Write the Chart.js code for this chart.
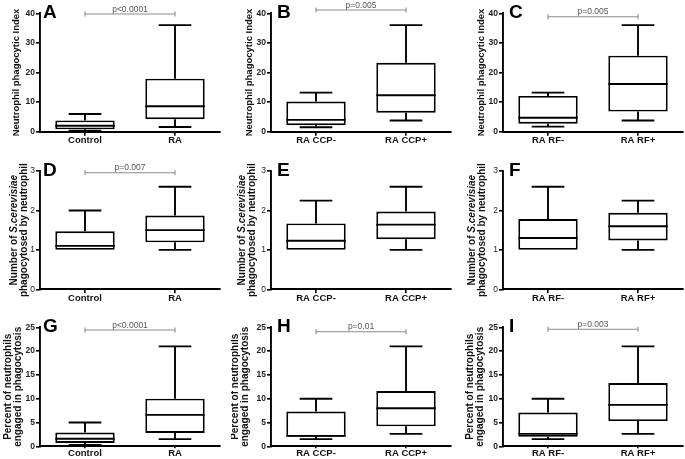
<!DOCTYPE html>
<html><head><meta charset="utf-8">
<script src="https://cdn.jsdelivr.net/npm/chart.js@4.4.1/dist/chart.umd.min.js"></script>
<style>
html,body{margin:0;padding:0;background:#fff;}
body{width:685px;height:459px;position:relative;overflow:hidden;}
.p{position:absolute;}
</style></head><body>
<script>
// ---------- data ----------
const catsRA  = ['Control', 'RA'];
const catsCCP = ['RA CCP-', 'RA CCP+'];
const catsRF  = ['RA RF-', 'RA RF+'];
// five-number summaries per group: [min, q1, median, q3, max]
const indexRA    = [[0.3, 0.8, 2.0, 3.8, 6.0], [1.6, 4.2, 8.6, 17.9, 36.0]];
const indexCCP   = [[1.5, 2.2, 4.0, 10.2, 13.2], [3.8, 6.4, 12.3, 23.3, 36.0]];
const indexRF    = [[1.7, 2.7, 4.7, 12.1, 13.2], [3.8, 6.8, 16.1, 25.7, 36.0]];
const numberRA   = [[1.0, 1.0, 1.1, 1.47, 2.0], [1.0, 1.19, 1.5, 1.87, 2.6]];
const numberCCP  = [[1.0, 1.0, 1.23, 1.67, 2.25], [1.0, 1.27, 1.64, 1.97, 2.6]];
const numberRF   = [[1.0, 1.0, 1.3, 1.78, 2.6], [1.0, 1.24, 1.6, 1.94, 2.25]];
const percentRA  = [[0.3, 0.7, 1.6, 2.9, 5.0], [1.5, 2.8, 6.6, 10.0, 21.0]];
const percentCCP = [[1.5, 2.0, 2.2, 7.3, 10.0], [2.6, 4.2, 8.0, 11.6, 21.0]];
const percentRF  = [[1.5, 2.0, 2.6, 7.1, 10.0], [2.6, 5.3, 8.7, 13.3, 21.0]];
const ticksIndex   = [0, 10, 20, 30, 40];
const ticksNumber  = [0, 1, 2, 3];
const ticksPercent = [0, 5, 10, 15, 20, 25];
const pValues = ['p<0.0001', 'p=0.005', 'p=0.005', 'p=0.007', '', '', 'p<0.0001', 'p=0.01', 'p=0.003'];
const letters = ['A', 'B', 'C', 'D', 'E', 'F', 'G', 'H', 'I'];
const titleIndex   = [[['Neutrophil phagocytic Index', false]]];
const titleNumber  = [[['Number of ', false], ['S.cerevisiae', true]], [['phagocytosed by neutrophil', false]]];
const titlePercent = [[['Percent of neutrophils', false]], [['engaged in phagocytosis', false]]];

const panelData = [indexRA, indexCCP, indexRF, numberRA, numberCCP, numberRF, percentRA, percentCCP, percentRF];
const panelCats = [catsRA, catsCCP, catsRF];
const rowTicks = [ticksIndex, ticksNumber, ticksPercent];
const rowTitles = [titleIndex, titleNumber, titlePercent];

// ---------- layout (styles / positions) ----------
const FONT = "'Liberation Sans', Arial, Helvetica, sans-serif";
Chart.defaults.font.family = FONT;
const LW = 1.9;
const canvasLeft = [0, 231, 463];
const canvasTop = [0, 158, 314];
const canvasH = [158, 156, 145];
const padTop = [13.3, 13, 13.3];
const xAxisH = [26.3, 24.7, 12.7];
const xTickLen = [4, 4, 2];
const xLabelPad = [-1, -1, -1];
const titleFont = [9.5, 10, 10];
const titleX = [[[16.7], [18.7], [18]], [[14, 24.3], [11, 21], [9.7, 19.7]], [[8.3, 18.3], [4.3, 14.3], [7, 17]]];
const letterDx = [3, 6, 6];
const bracketDy = [0.7, -3.3, 3.4, 1.7, 0, 0, 2.7, 4.4, 2];

const boxPlugin = {
  id: 'boxplot',
  afterDatasetsDraw(chart) {
    const cfg = chart.options.plugins.boxplot;
    const summ = cfg.summary;
    const ys = chart.scales.y;
    const ctx = chart.ctx;
    const meta = chart.getDatasetMeta(0);
    ctx.save();
    ctx.strokeStyle = '#000';
    ctx.lineWidth = LW;
    ctx.lineCap = 'butt';
    const seg = (x1, y1, x2, y2) => { ctx.beginPath(); ctx.moveTo(x1, y1); ctx.lineTo(x2, y2); ctx.stroke(); };
    meta.data.forEach((bar, j) => {
      const s = summ[j];
      const x = bar.x, w = bar.width, cw = w * 0.55;
      const py = v => ys.getPixelForValue(v);
      seg(x, py(s[3]), x, py(s[4]));
      seg(x - cw / 2, py(s[4]), x + cw / 2, py(s[4]));
      if (s[0] < s[1]) {
        seg(x, py(s[1]), x, py(s[0]));
        seg(x - cw / 2, py(s[0]), x + cw / 2, py(s[0]));
      }
      seg(x - w / 2, py(s[2]), x + w / 2, py(s[2]));
    });
    ctx.restore();
  },
  afterDraw(chart) {
    const cfg = chart.options.plugins.boxplot;
    const ctx = chart.ctx;
    const ca = chart.chartArea;
    const xs = chart.scales.x;
    ctx.save();
    // panel letter
    ctx.fillStyle = '#000';
    ctx.font = 'bold 19px ' + FONT;
    ctx.textAlign = 'left';
    ctx.textBaseline = 'alphabetic';
    ctx.fillText(cfg.letter, ca.left + cfg.letterDx, ca.top + 5);
    // significance bracket
    if (cfg.p) {
      const x1 = xs.getPixelForValue(0), x2 = xs.getPixelForValue(1);
      const y = ca.top + cfg.bracketDy;
      ctx.strokeStyle = '#8c8c8c';
      ctx.lineWidth = 1.1;
      ctx.beginPath();
      ctx.moveTo(x1, y); ctx.lineTo(x2, y);
      ctx.moveTo(x1, y - 2.5); ctx.lineTo(x1, y + 2.5);
      ctx.moveTo(x2, y - 2.5); ctx.lineTo(x2, y + 2.5);
      ctx.stroke();
      ctx.fillStyle = '#555';
      ctx.font = '8.5px ' + FONT;
      ctx.textAlign = 'center';
      ctx.fillText(cfg.p, (x1 + x2) / 2, y - 2.5);
    }
    // y title (rotated, mixed italic)
    const cy = (ca.top + ca.bottom) / 2;
    ctx.fillStyle = '#111';
    ctx.textBaseline = 'middle';
    ctx.textAlign = 'left';
    cfg.title.forEach((line, li) => {
      const fonts = line.map(sg => (sg[1] ? 'italic bold ' : 'bold ') + cfg.titleSize + 'px ' + FONT);
      let total = 0;
      const widths = line.map((sg, k) => { ctx.font = fonts[k]; const m = ctx.measureText(sg[0]).width; total += m; return m; });
      ctx.save();
      ctx.translate(cfg.titleX[li], cy);
      ctx.rotate(-Math.PI / 2);
      let xx = -total / 2;
      line.forEach((sg, k) => { ctx.font = fonts[k]; ctx.fillText(sg[0], xx, 0); xx += widths[k]; });
      ctx.restore();
    });
    ctx.restore();
  }
};

for (let i = 0; i < 9; i++) {
  const row = Math.floor(i / 3), col = i % 3;
  const div = document.createElement('div');
  div.className = 'p';
  div.style.left = canvasLeft[col] + 'px';
  div.style.top = canvasTop[row] + 'px';
  div.style.width = '222px';
  div.style.height = canvasH[row] + 'px';
  const cv = document.createElement('canvas');
  div.appendChild(cv);
  document.body.appendChild(div);
  const summary = panelData[i];
  const ticks = rowTicks[row];
  new Chart(cv, {
    type: 'bar',
    data: {
      labels: panelCats[col],
      datasets: [{
        data: summary.map(s => [s[1], s[3]]),
        backgroundColor: '#fff',
        borderColor: '#000',
        borderWidth: LW,
        borderSkipped: false,
        barPercentage: 0.66,
        categoryPercentage: 1
      }]
    },
    options: {
      responsive: true,
      maintainAspectRatio: false,
      animation: false,
      events: [],
      layout: { padding: { top: padTop[row], right: 2, left: 0, bottom: 0 } },
      plugins: {
        legend: { display: false },
        tooltip: { enabled: false },
        boxplot: {
          summary: summary,
          letter: letters[i],
          letterDx: letterDx[col],
          p: pValues[i],
          bracketDy: bracketDy[i],
          title: rowTitles[row],
          titleX: titleX[row][col],
          titleSize: titleFont[row]
        }
      },
      scales: {
        x: {
          grid: { display: true, drawOnChartArea: false, drawTicks: true, tickLength: xTickLen[row], offset: false, color: '#000', lineWidth: 1.6 },
          border: { display: true, color: '#000', width: LW },
          ticks: { font: { size: 9.5, weight: 'bold' }, color: '#111', padding: xLabelPad[row], maxRotation: 0, autoSkip: false },
          afterFit: s => { s.height = xAxisH[row]; }
        },
        y: {
          min: ticks[0],
          max: ticks[ticks.length - 1],
          grid: { display: true, drawOnChartArea: false, drawTicks: true, tickLength: 4, color: '#000', lineWidth: 1.6 },
          border: { display: true, color: '#000', width: LW },
          ticks: { font: { size: 8.5, weight: row === 1 ? 'normal' : 'bold' }, color: '#222', padding: 1 },
          afterBuildTicks: s => { s.ticks = ticks.map(v => ({ value: v })); },
          afterFit: s => { s.width = 40; }
        }
      }
    },
    plugins: [boxPlugin]
  });
}
</script>
</body></html>
